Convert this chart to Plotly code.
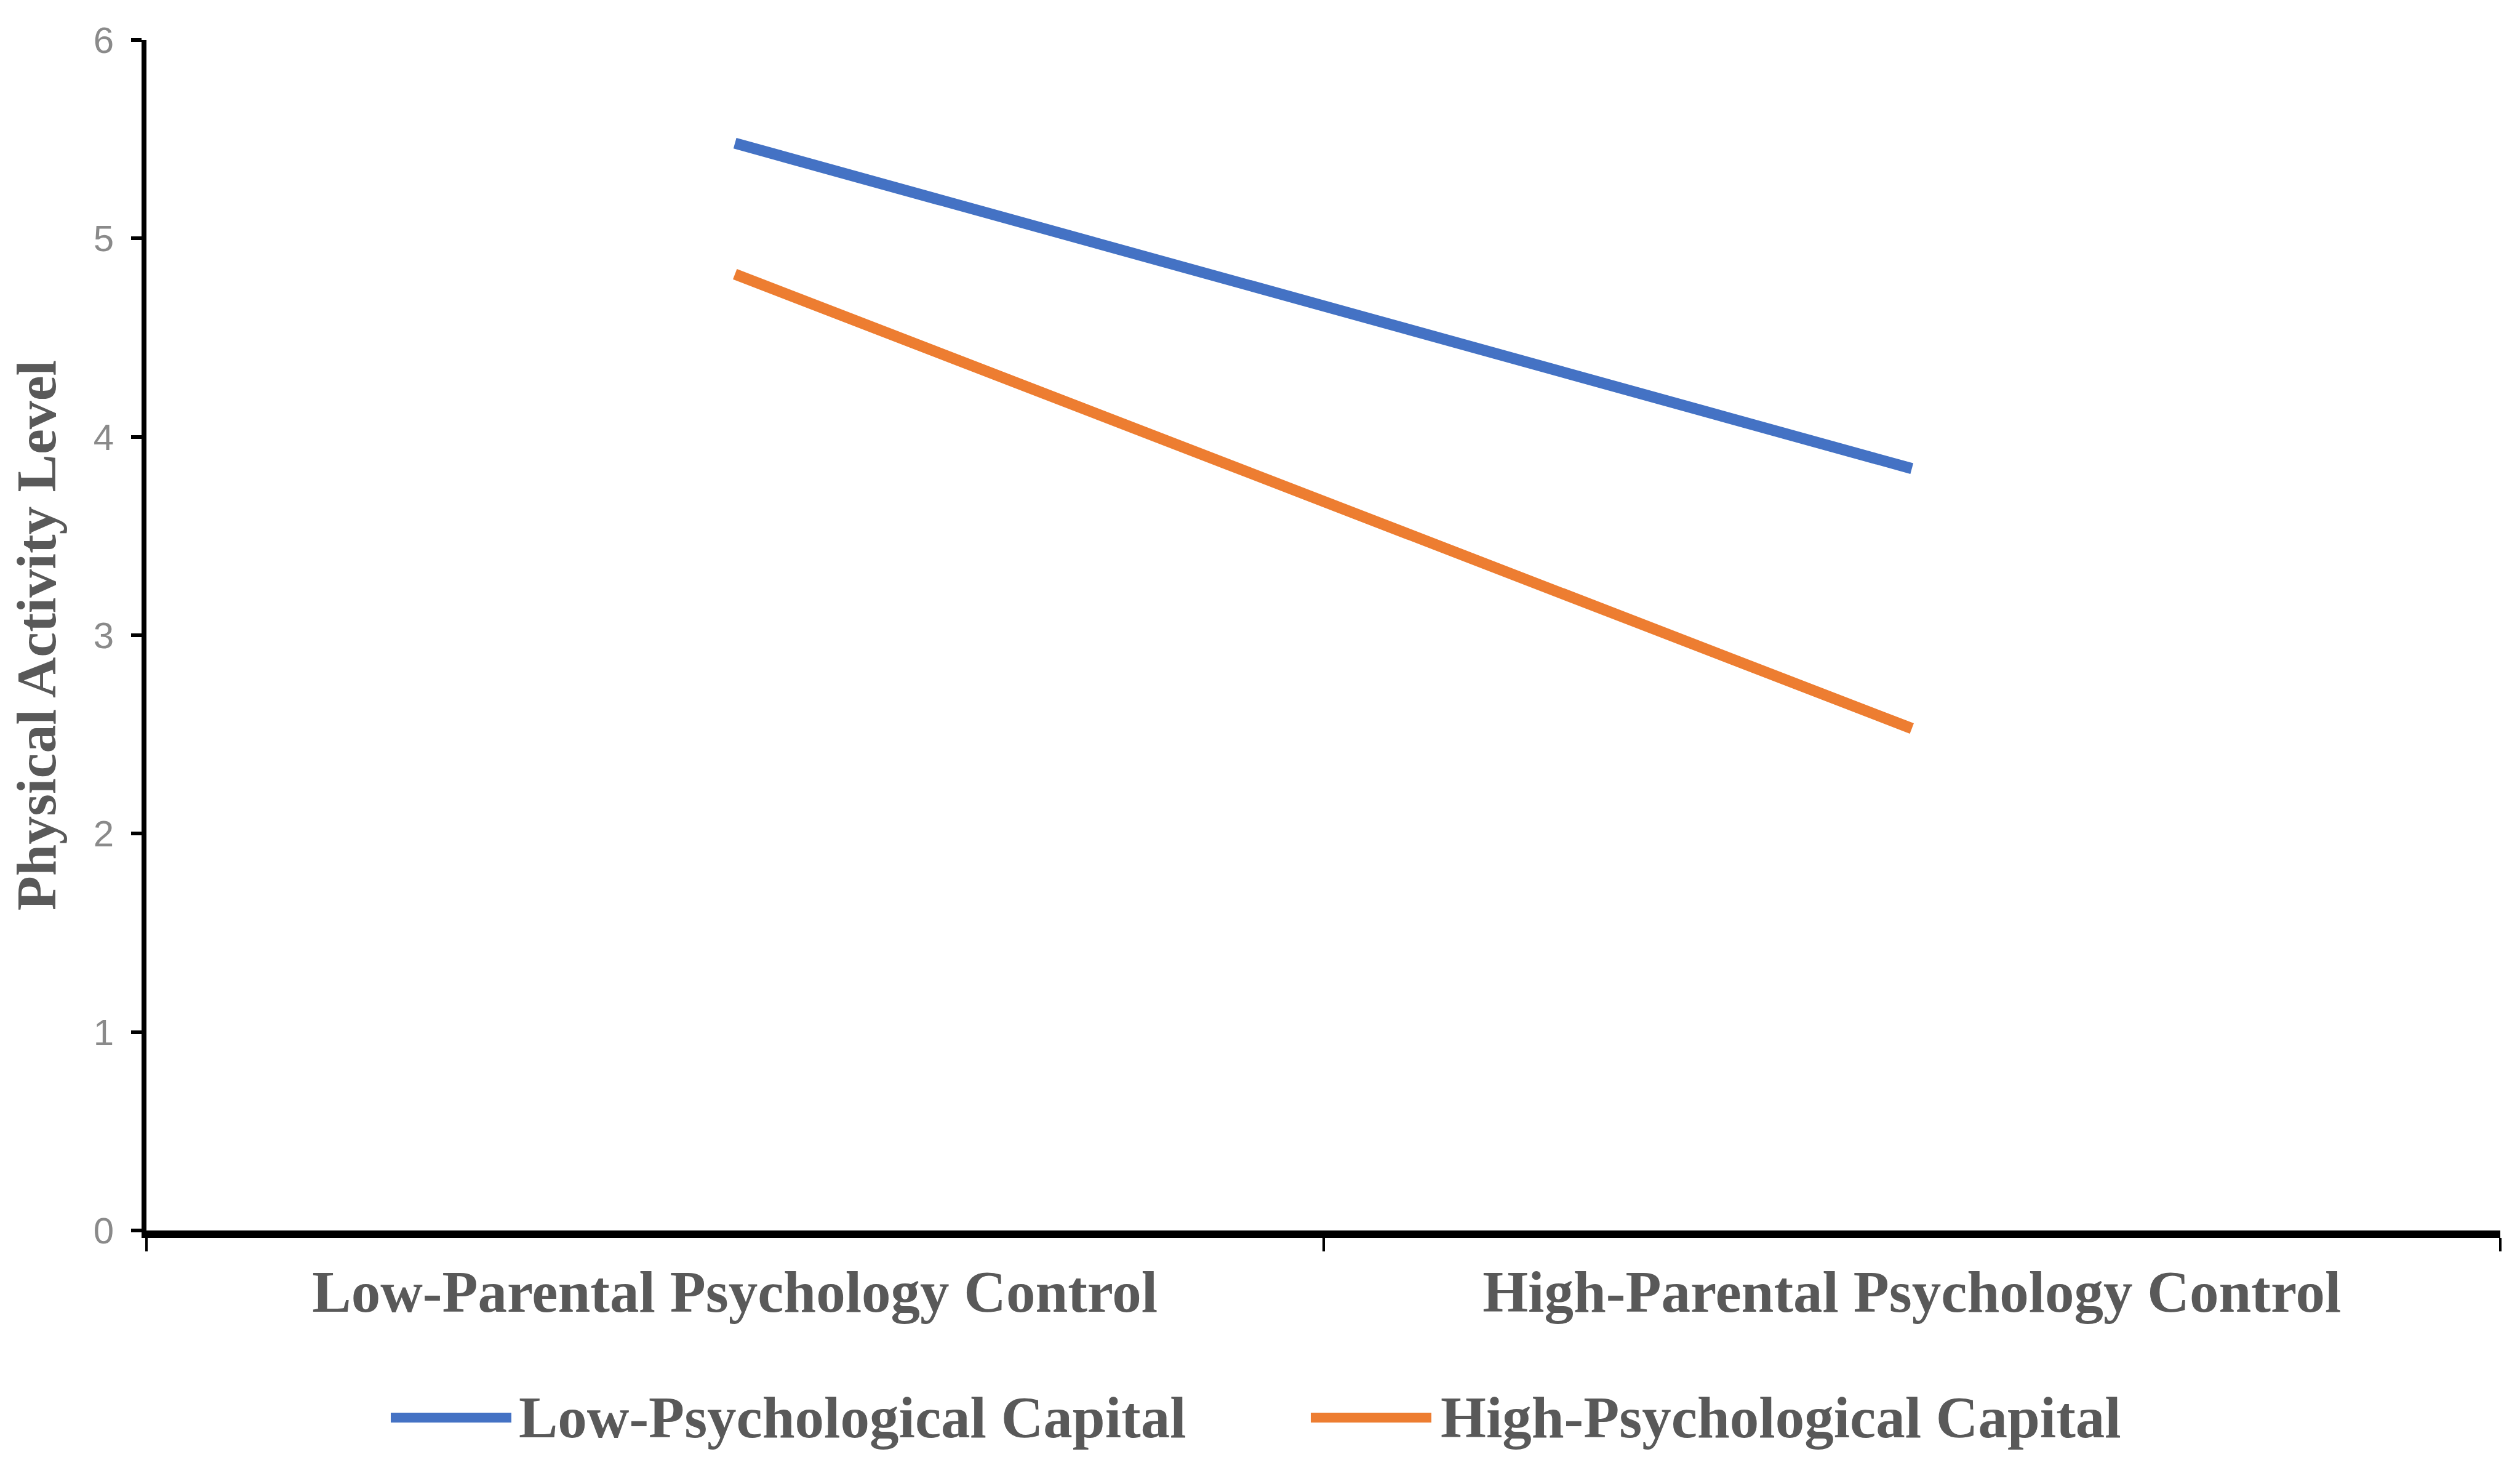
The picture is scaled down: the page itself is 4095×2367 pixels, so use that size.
import plotly.graph_objects as go

categories = ["Low-Parental Psychology Control", "High-Parental Psychology Control"]
series_names = ["Low-Psychological Capital", "High-Psychological Capital"]
low_capital = [5.48, 3.84]
high_capital = [4.82, 2.53]
series_values = [low_capital, high_capital]
colors = ["#4472C4", "#ED7D31"]
y_ticks = [0, 1, 2, 3, 4, 5, 6]

# page body has an 8px margin, so the figure is shrunk to fit the window
PAD = 8
W, H = 4095 - 2 * PAD, 2367 - 2 * PAD
L, R, T, B = 238 - PAD, 32 - PAD, 65 - PAD, 368 - PAD
serif = "Liberation Serif"
text_grey = "#595959"

fig = go.Figure()
for name, vals, col in zip(series_names, series_values, colors):
    fig.add_trace(go.Scatter(
        x=categories, y=vals, name=name, mode="lines",
        line=dict(color=col, width=18),
        showlegend=False,
    ))


def px_x(p):
    # window pixel -> paper x
    return (p - PAD - L) / (W - L - R)


def px_y(p):
    # window pixel -> paper y
    return (H - B - (p - PAD)) / (H - T - B)


# hand-made legend so the swatch lines are long like the original
legend_items = [(635, 831, 841), (2130, 2326, 2339)]
ly = 2303
for (x0, x1, xt), name, col in zip(legend_items, series_names, colors):
    fig.add_shape(type="line", xref="paper", yref="paper",
                  x0=px_x(x0), x1=px_x(x1), y0=px_y(ly), y1=px_y(ly),
                  line=dict(color=col, width=16))
    fig.add_annotation(xref="paper", yref="paper", x=px_x(xt), y=px_y(ly),
                       text=name, showarrow=False, xanchor="left", yanchor="middle",
                       font=dict(family=serif, size=95, color=text_grey, weight="bold"))

fig.update_layout(
    width=W, height=H,
    margin=dict(l=L, r=R, t=T, b=B, autoexpand=False),
    paper_bgcolor="white", plot_bgcolor="white",
)
fig.update_xaxes(
    type="category", categoryorder="array", categoryarray=categories,
    range=[-0.5, 1.5], tickson="boundaries",
    showline=True, linecolor="black", linewidth=12,
    ticks="outside", ticklen=22, tickwidth=4, tickcolor="black",
    ticklabelstandoff=6,
    tickfont=dict(family=serif, size=95, color=text_grey, weight="bold"),
    showgrid=False, zeroline=False,
)
fig.update_yaxes(
    range=[0, 6], tickvals=y_ticks,
    showline=True, linecolor="black", linewidth=8,
    ticks="outside", ticklen=17, tickwidth=6, tickcolor="black",
    ticklabelstandoff=16,
    tickfont=dict(family="Liberation Sans", size=60, color="#8a8a8a"),
    showgrid=False, zeroline=False,
    title=dict(text="Physical Activity Level", standoff=46,
               font=dict(family=serif, size=92, color=text_grey, weight="bold")),
)

fig.write_html("out.html")
